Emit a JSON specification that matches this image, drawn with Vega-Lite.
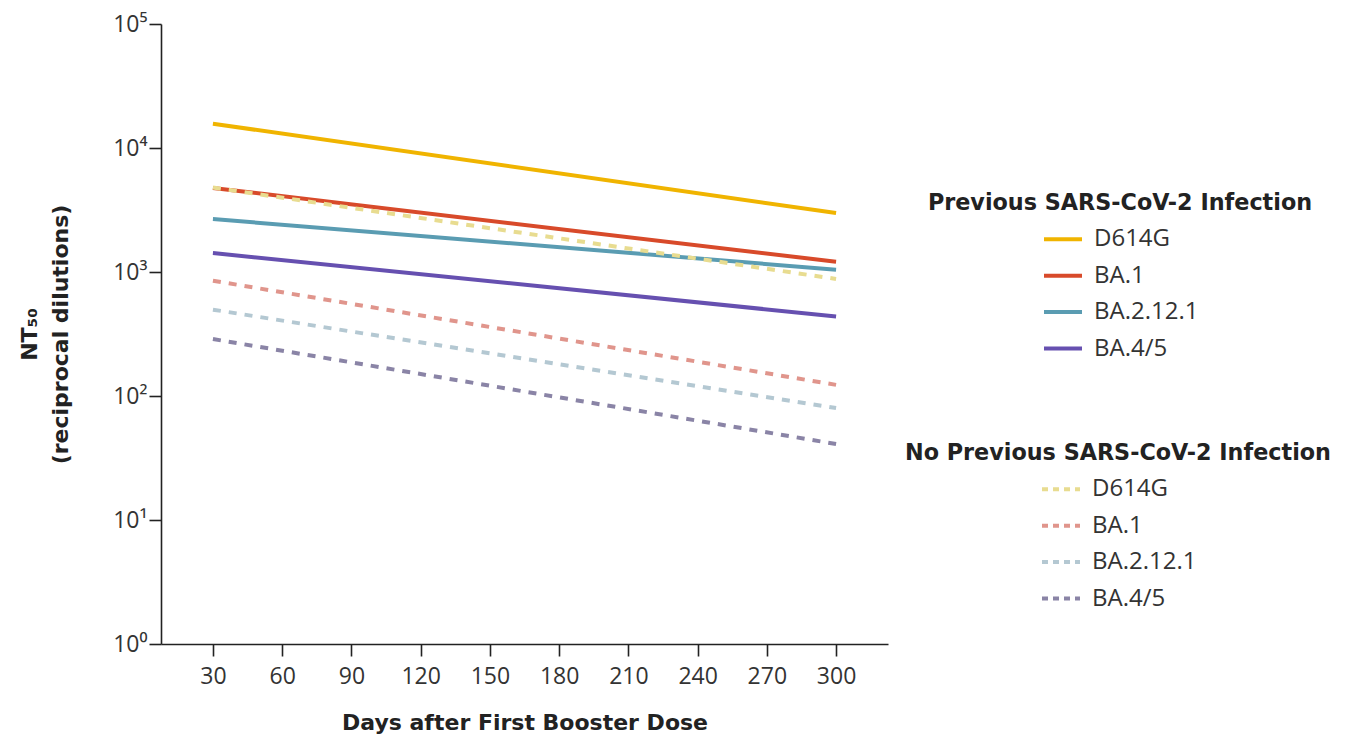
{
  "$schema": "https://vega.github.io/schema/vega-lite/v6.json",
  "width": 727,
  "height": 620,
  "autosize": "none",
  "padding": {"left": 161, "top": 24, "right": 459, "bottom": 93},
  "background": "white",
  "config": {
    "font": "Open Sans",
    "view": {"stroke": null},
    "axis": {
      "grid": false,
      "domainColor": "#222222",
      "domainWidth": 1.6,
      "tickColor": "#222222",
      "tickWidth": 1.6,
      "tickSize": 12,
      "labelFont": "Open Sans",
      "labelFontSize": 23,
      "labelColor": "#333333",
      "titleFont": "DejaVu Sans",
      "titleFontSize": 22,
      "titleFontWeight": "bold",
      "titleColor": "#222222"
    },
    "legend": {
      "symbolType": "stroke",
      "symbolStrokeWidth": 4,
      "symbolSize": 1444,
      "labelFont": "Open Sans",
      "labelFontSize": 24,
      "labelColor": "#333333",
      "labelOffset": 10,
      "titleFont": "DejaVu Sans",
      "titleFontSize": 22.3,
      "titleFontWeight": "bold",
      "titleColor": "#222222",
      "titleLimit": 600,
      "titlePadding": 4,
      "titleAnchor": "middle",
      "rowPadding": 3.4
    }
  },
  "data": {
    "values": [
      {"infection": "Previous", "variant": "D614G", "day": 30, "nt50": 15700},
      {"infection": "Previous", "variant": "D614G", "day": 300, "nt50": 2990},
      {"infection": "Previous", "variant": "BA.1", "day": 30, "nt50": 4760},
      {"infection": "Previous", "variant": "BA.1", "day": 300, "nt50": 1210},
      {"infection": "Previous", "variant": "BA.2.12.1", "day": 30, "nt50": 2670},
      {"infection": "Previous", "variant": "BA.2.12.1", "day": 300, "nt50": 1044},
      {"infection": "Previous", "variant": "BA.4/5", "day": 30, "nt50": 1423},
      {"infection": "Previous", "variant": "BA.4/5", "day": 300, "nt50": 438},
      {"infection": "None", "variant": "D614G", "day": 30, "nt50": 4800},
      {"infection": "None", "variant": "D614G", "day": 300, "nt50": 879},
      {"infection": "None", "variant": "BA.1", "day": 30, "nt50": 851},
      {"infection": "None", "variant": "BA.1", "day": 300, "nt50": 123},
      {"infection": "None", "variant": "BA.2.12.1", "day": 30, "nt50": 497},
      {"infection": "None", "variant": "BA.2.12.1", "day": 300, "nt50": 80},
      {"infection": "None", "variant": "BA.4/5", "day": 30, "nt50": 288},
      {"infection": "None", "variant": "BA.4/5", "day": 300, "nt50": 41}
    ]
  },
  "encoding": {
    "x": {
      "field": "day",
      "type": "quantitative",
      "scale": {"domain": [7.5, 322.5], "nice": false, "zero": false},
      "axis": {
        "values": [30, 60, 90, 120, 150, 180, 210, 240, 270, 300],
        "title": "Days after First Booster Dose",
        "labelPadding": 9,
        "titlePadding": 24
      }
    },
    "y": {
      "field": "nt50",
      "type": "quantitative",
      "scale": {"type": "log", "domain": [1, 100000], "nice": false},
      "axis": {
        "values": [1, 10, 100, 1000, 10000, 100000],
        "labelExpr": "'10' + ['⁰','¹','²','³','⁴','⁵'][round(log(datum.value)/LN10)]",
        "labelPadding": 2,
        "title": ["NT₅₀", "(reciprocal dilutions)"],
        "titleLineHeight": 31,
        "titlePadding": 40
      }
    }
  },
  "layer": [
    {
      "transform": [{"filter": "datum.infection == 'Previous'"}],
      "mark": {"type": "line", "strokeWidth": 4, "strokeCap": "butt"},
      "encoding": {
        "color": {
          "field": "variant",
          "type": "nominal",
          "scale": {
            "domain": ["D614G", "BA.1", "BA.2.12.1", "BA.4/5"],
            "range": ["#f0b400", "#d84a2a", "#5a9cb2", "#6650b0"]
          },
          "legend": {
            "title": "Previous SARS-CoV-2 Infection",
            "orient": "none",
            "legendX": 767,
            "legendY": 168
          }
        }
      }
    },
    {
      "transform": [{"filter": "datum.infection == 'None'"}],
      "mark": {"type": "line", "strokeWidth": 4, "strokeCap": "butt", "strokeDash": [8, 8]},
      "encoding": {
        "color": {
          "field": "variant",
          "type": "nominal",
          "scale": {
            "domain": ["D614G", "BA.1", "BA.2.12.1", "BA.4/5"],
            "range": ["#e8dc90", "#e0958c", "#b4c8d2", "#8a84a6"]
          },
          "legend": {
            "title": "No Previous SARS-CoV-2 Infection",
            "orient": "none",
            "legendX": 744,
            "legendY": 418,
            "symbolDash": [6, 5]
          }
        }
      }
    }
  ],
  "resolve": {"scale": {"color": "independent"}, "legend": {"color": "independent"}}
}
